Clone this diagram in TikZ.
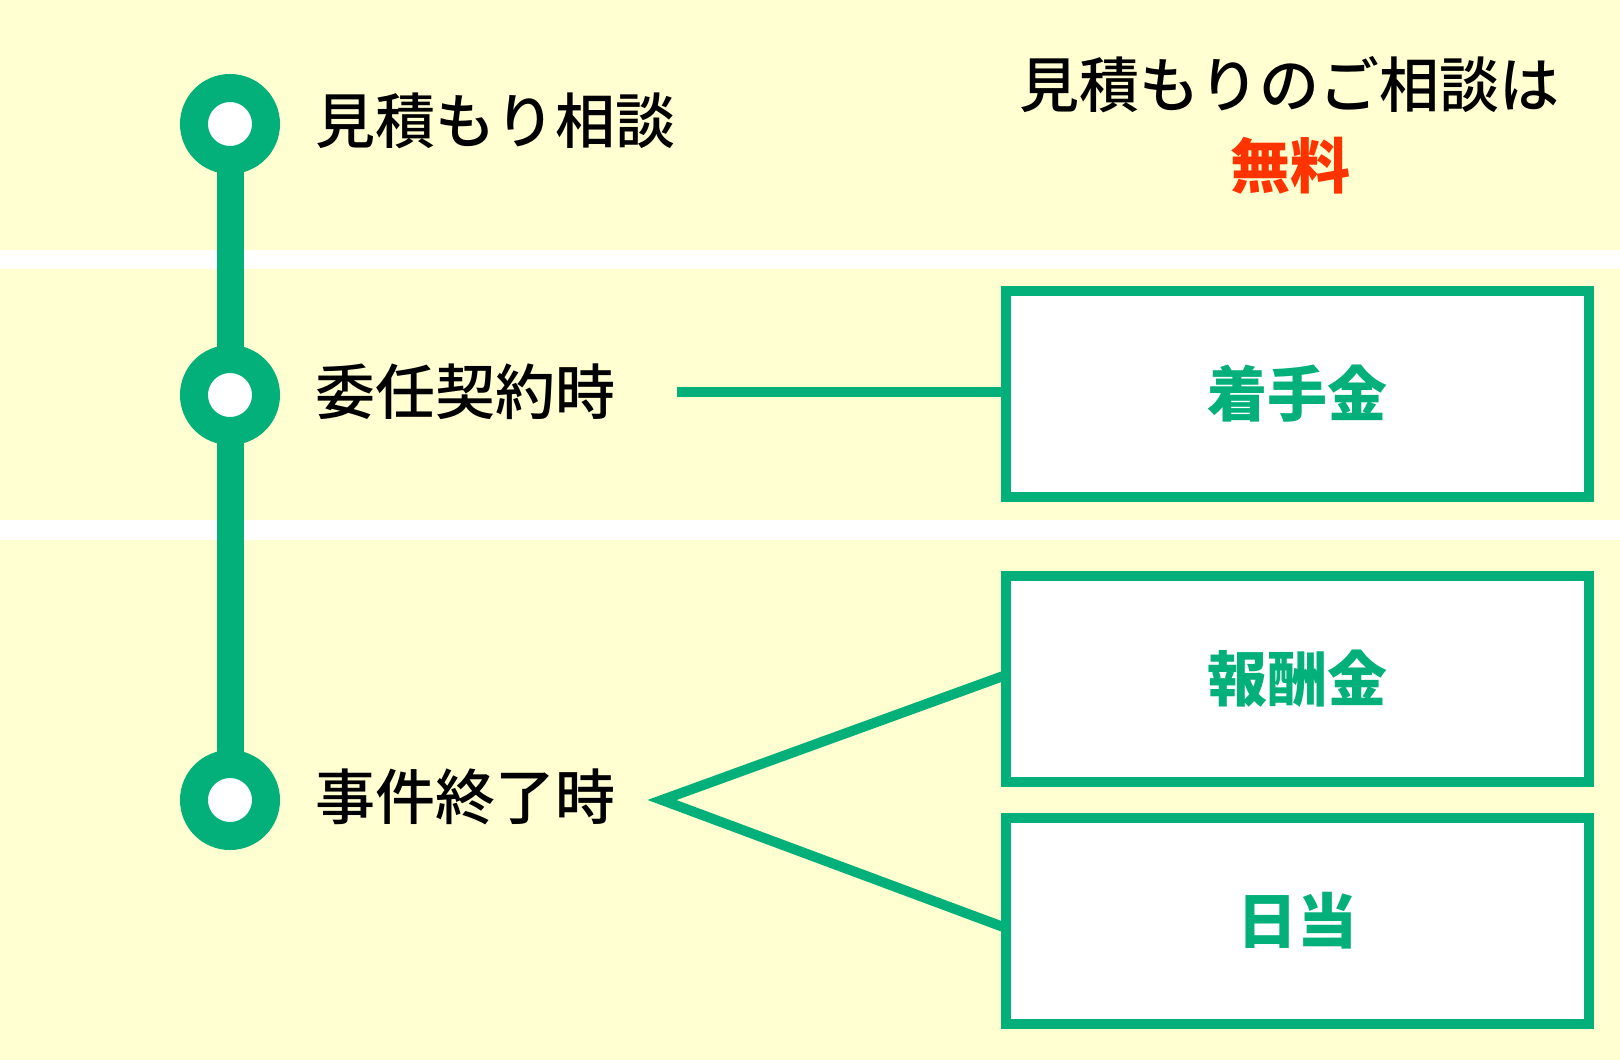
\documentclass[tikz,border=0pt]{standalone}
\usepackage{fontspec}
\setmainfont{Noto Sans CJK JP}
\newfontfamily\medfont{Noto Sans CJK JP}[UprightFont={* Medium}]
\definecolor{kgreen}{RGB}{4,176,122}
\definecolor{kyellow}{RGB}{255,255,209}
\definecolor{kred}{RGB}{255,51,0}
\tikzset{
  stop/.style={circle,draw=kgreen,line width=14pt,fill=white,minimum size=36pt,inner sep=0pt,outer sep=0pt},
  steptext/.style={anchor=west,inner sep=0pt,font=\fontsize{30pt}{36pt}\medfont},
  feebox/.style={rectangle,draw=kgreen,line width=5pt,fill=white,minimum width=291.5pt,minimum height=103pt,
    outer sep=0pt,text=kgreen,font=\fontsize{30pt}{36pt}\selectfont\bfseries},
}
\begin{document}
\begin{tikzpicture}[x=0.5pt,y=-0.5pt]
      \fill[white] (0,0) rectangle (1620,1060);
      \fill[kyellow] (0,0) rectangle (1620,250);
      \fill[kyellow] (0,269) rectangle (1620,520);
      \fill[kyellow] (0,540) rectangle (1620,1060);
      \useasboundingbox (0,0) rectangle (1620,1060);
      \draw
        (230,124) node[stop] (s1){}
        (230,395) node[stop] (s2){}
        (230,800) node[stop] (s3){}
        (315,120.5) node[steptext] (t1){見積もり相談}
        (315,391.5) node[steptext] (t2){委任契約時}
        (315,796.5) node[steptext] (t3){事件終了時}
        (1289,85) node[font=\fontsize{30pt}{36pt}\medfont] (q1){見積もりのご相談は}
        (1290,166) node[font=\fontsize{30pt}{36pt}\selectfont\bfseries,text=kred] (q2){無料}
        (1297.5,394) node[feebox] (f1){着手金}
        (1297.5,679) node[feebox] (f2){報酬金}
        (1297.5,921) node[feebox] (f3){日当};
      \coordinate (c2) at (677,392);
      \coordinate (v) at (662,800);
      \begin{scope}[kgreen]
        \draw[line width=13.5pt] (s1) to (s2);
        \draw[line width=13.5pt] (s2) to (s3);
        \draw[line width=5pt] (c2) to ([yshift=1pt]f1.west);
        \draw[line width=5pt] ([yshift=2pt]f2.west) -- (v) -- ([yshift=-3.5pt]f3.west);
      \end{scope}
    \end{tikzpicture}
\end{document}
